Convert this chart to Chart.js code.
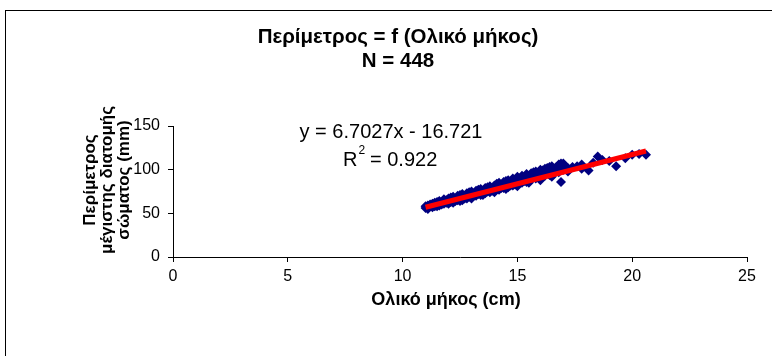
<!DOCTYPE html>
<html>
<head>
<meta charset="utf-8">
<script src="https://cdn.jsdelivr.net/npm/chart.js@4.4.1/dist/chart.umd.min.js"></script>
<style>
  html, body { margin: 0; padding: 0; background: #fff; overflow: hidden; }
  #frame { position: absolute; left: 5px; top: 10px; width: 900px; height: 500px; border: 1px solid #000; }
  #wrap { position: absolute; left: 0; top: 0; width: 772px; height: 356px; }
</style>
</head>
<body>
<div id="frame"></div>
<div id="wrap"><canvas id="myChart" width="772" height="356"></canvas></div>
<script>
// total length (cm)
var lengthCm = [
  11.0, 11.0, 11.1, 11.1, 11.1, 11.2, 11.2, 11.3, 11.3, 11.4, 11.4, 11.4,
  11.5, 11.5, 11.6, 11.6, 11.6, 11.7, 11.7, 11.8, 11.8, 11.8, 11.9, 11.9,
  12.0, 12.0, 12.0, 12.1, 12.1, 12.2, 12.2, 12.2, 12.3, 12.3, 12.4, 12.4, 12.4,
  12.5, 12.5, 12.6, 12.6, 12.6, 12.7, 12.7, 12.8, 12.8, 12.8, 12.9, 12.9,
  13.0, 13.0, 13.0, 13.1, 13.1, 13.2, 13.2, 13.2, 13.3, 13.3, 13.4, 13.4, 13.4,
  13.5, 13.5, 13.6, 13.6, 13.6, 13.7, 13.7, 13.8, 13.8, 13.8, 13.9, 13.9,
  14.0, 14.0, 14.0, 14.1, 14.1, 14.2, 14.2, 14.2, 14.3, 14.3, 14.4, 14.4, 14.4,
  14.5, 14.5, 14.6, 14.6, 14.6, 14.7, 14.7, 14.8, 14.8, 14.8, 14.9, 14.9,
  15.0, 15.0, 15.0, 15.1, 15.1, 15.2, 15.2, 15.2, 15.3, 15.3, 15.4, 15.4, 15.4,
  15.5, 15.5, 15.6, 15.6, 15.6, 15.7, 15.7, 15.8, 15.8, 15.8, 15.9, 15.9,
  16.0, 16.0, 16.0, 16.2, 16.2, 16.2, 16.4, 16.4, 16.4, 16.6, 16.6,
  16.8, 16.8, 16.8, 16.9, 16.9, 17.0, 17.0, 17.2, 17.2, 17.4, 17.6,
  17.8, 17.8, 18.1, 18.3, 18.5, 18.7, 19.0, 19.3, 19.7, 20.0, 20.3, 20.6,
  11.5, 12.0, 12.5, 13.0, 13.5, 14.0, 14.5, 15.0, 15.5, 16.0, 16.5,
  16.1, 16.3, 16.5, 16.7, 17.0, 16.9
];
// perimeter (mm) for each length above
var perimeterMm = [
  56, 58, 57, 59, 55, 58, 60, 57, 61, 59, 62, 58,
  60, 63, 61, 59, 64, 62, 60, 63, 66, 61, 62, 65,
  64, 67, 62, 63, 68, 65, 62, 69, 66, 64, 67, 70, 65,
  66, 71, 68, 65, 72, 69, 67, 70, 73, 67, 69, 74,
  71, 68, 75, 72, 70, 73, 76, 70, 72, 77, 74, 71, 78,
  75, 73, 76, 79, 73, 75, 80, 77, 74, 81, 78, 76,
  79, 82, 76, 78, 84, 80, 77, 85, 81, 79, 82, 86, 79,
  81, 87, 83, 80, 88, 84, 82, 85, 90, 82, 86, 83,
  87, 92, 83, 86, 90, 88, 85, 93, 89, 87, 90, 95, 86,
  91, 88, 92, 96, 89, 91, 97, 93, 90, 98, 94, 92,
  95, 100, 91, 96, 93, 101, 98, 94, 103, 99, 96,
  101, 106, 97, 105, 86, 100, 107, 102, 98, 103, 104,
  106, 101, 99, 108, 115, 111, 110, 104, 113, 117, 118, 117,
  58, 61, 64, 67, 71, 74, 78, 81, 85, 88, 92,
  99, 102, 104, 103, 104, 107
];
var xTicks = [0, 5, 10, 15, 20, 25];
var yTicks = [0, 50, 100, 150];
// linear trendline as printed on the chart
var slope = 6.7027;
var intercept = -16.721;
var trendX = [11.0, 20.6];

var points = lengthCm.map(function (x, i) { return { x: x, y: perimeterMm[i] }; });
var trend = trendX.map(function (x) { return { x: x, y: slope * x + intercept }; });

var FONT = '"Liberation Sans", Arial, sans-serif';

var textPlugin = {
  id: 'texts',
  afterDraw: function (chart) {
    var c = chart.ctx;
    c.save();
    c.fillStyle = '#000';
    c.textAlign = 'center';
    c.textBaseline = 'middle';
    // chart title
    c.font = 'bold 20.5px ' + FONT;
    c.fillText('Περίμετρος = f (Ολικό μήκος)', 398, 37);
    c.fillText('N = 448', 398, 61);
    // x axis title
    c.font = 'bold 18px ' + FONT;
    c.fillText('Ολικό μήκος (cm)', 446, 300);
    // y axis title, three lines
    c.font = 'bold 17px ' + FONT;
    var yLines = ['Περίμετρος', 'μέγιστης διατομής', 'σώματος (mm)'];
    var yX = [90, 107, 124];
    yLines.forEach(function (t, i) {
      c.save();
      c.translate(yX[i], 180);
      c.rotate(-Math.PI / 2);
      c.fillText(t, 0, 0);
      c.restore();
    });
    // trendline equation
    c.font = '20px ' + FONT;
    c.fillText('y = 6.7027x - 16.721', 391, 132);
    c.textAlign = 'left';
    c.fillText('R', 343, 160);
    var rw = c.measureText('R').width;
    c.font = '12px ' + FONT;
    c.fillText('2', 343 + rw + 1, 151);
    c.font = '20px ' + FONT;
    c.fillText(' = 0.922', 343 + rw + 7, 160);
    c.restore();
  }
};

var ctx = document.getElementById('myChart').getContext('2d');
var myChart = new Chart(ctx, {
  type: 'scatter',
  data: {
    datasets: [{
      label: 'Trend',
      type: 'line',
      data: trend,
      borderColor: '#FF0000',
      borderWidth: 5,
      pointRadius: 0,
      fill: false,
      order: 0
    }, {
      label: 'Περίμετρος',
      data: points,
      backgroundColor: '#000080',
      borderColor: '#000080',
      pointStyle: 'rectRot',
      pointRadius: 5,
      borderWidth: 0,
      order: 1
    }]
  },
  options: {
    responsive: false,
    animation: false,
    layout: { padding: { top: 126, right: 25, left: 0, bottom: 0 } },
    plugins: {
      legend: { display: false },
      tooltip: { enabled: false },
      title: { display: false }
    },
    scales: {
      x: {
        type: 'linear',
        min: 0,
        max: 25,
        afterBuildTicks: function (scale) { scale.ticks = xTicks.map(function (v) { return { value: v }; }); },
        afterFit: function (scale) { scale.height = 99; },
        grid: { drawOnChartArea: false, drawTicks: true, tickLength: 5, color: '#000' },
        border: { color: '#000', width: 1 },
        ticks: { color: '#000', padding: 5, maxRotation: 0, font: { family: FONT, size: 16 } },
        title: { display: false }
      },
      y: {
        type: 'linear',
        min: 0,
        max: 150,
        afterBuildTicks: function (scale) { scale.ticks = yTicks.map(function (v) { return { value: v }; }); },
        afterFit: function (scale) { scale.width = 173; },
        grid: { drawOnChartArea: false, drawTicks: true, tickLength: 5, color: '#000' },
        border: { color: '#000', width: 1 },
        ticks: { color: '#000', padding: 8, font: { family: FONT, size: 16 } },
        title: { display: false }
      }
    }
  },
  plugins: [textPlugin]
});
</script>
</body>
</html>
